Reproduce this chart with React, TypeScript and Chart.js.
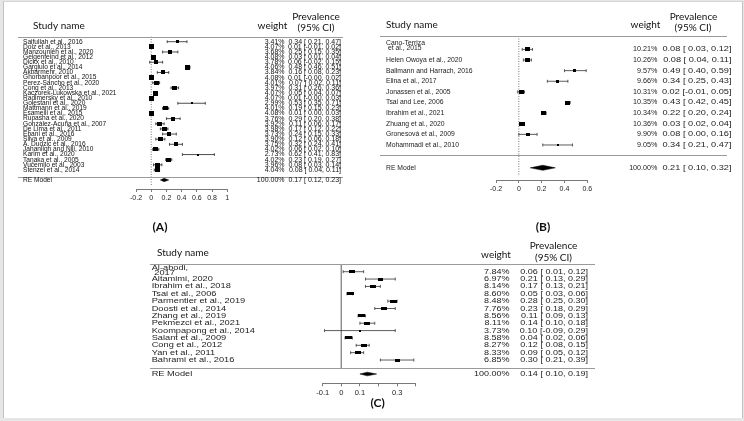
import { useEffect, useRef } from 'react';
import { Chart, registerables } from 'chart.js';
Chart.register(...registerables);

// ---------- Panel A data ----------
const namesA = [
  'Saifullah et al., 2016', 'Dolz et al., 2013', 'Manzounieh et al., 2020', 'Geigenfeind et al., 2012',
  'Dickx et al., 2010', 'Gargiulo et al., 2014', 'Akbarmehr, 2010', 'Ghorbanpoor et al., 2015',
  'Perez-Sancho et al., 2020', 'Cong et al., 2013', 'Kaczorek-Lukowska et al., 2021', 'Radimersky et al., 2010',
  'Golestani et al., 2020', 'Mattmann et al., 2019', 'Esameili et al., 2015', 'Rupasha et al., 2020',
  'González-Acuña et al., 2007', 'De Lima et al., 2011', 'Ebani et al., 2016', 'Silva et al., 2009',
  'A. Dudzic et al., 2016', 'Jahanligh and Nili, 2010', 'Karim et al., 2020', 'Tanaka et al., 2005',
  'Vučemilo et al., 2003', 'Stenzel et al., 2014',
];
const weightsA = [3.41, 4.07, 3.68, 4.08, 3.78, 4.06, 3.84, 4.08, 4.01, 3.97, 4.07, 4.07, 2.99, 4.01, 4.08, 3.76, 3.92, 3.98, 3.73, 3.90, 3.75, 4.02, 2.73, 4.02, 3.96, 4.04];
const estA = [0.34, 0.01, 0.25, 0.03, 0.06, 0.48, 0.16, 0.01, 0.07, 0.31, 0.05, 0.01, 0.53, 0.19, 0.01, 0.29, 0.11, 0.17, 0.24, 0.12, 0.32, 0.06, 0.62, 0.23, 0.08, 0.08];
const loA = [0.21, -0.01, 0.15, 0.01, -0.02, 0.46, 0.08, -0.003, 0.02, 0.26, 0.04, -0.003, 0.35, 0.15, 0.00, 0.20, 0.06, 0.12, 0.15, 0.06, 0.24, 0.02, 0.41, 0.19, 0.03, 0.04];
const hiA = [0.47, 0.02, 0.35, 0.04, 0.15, 0.51, 0.23, 0.02, 0.11, 0.36, 0.07, 0.03, 0.71, 0.23, 0.03, 0.38, 0.17, 0.22, 0.33, 0.18, 0.41, 0.10, 0.83, 0.27, 0.14, 0.11];
const reA = [0.17, 0.12, 0.23];
const ticksA = [-0.2, 0, 0.2, 0.4, 0.6, 0.8, 1];
const tickLabelsA = ['-0.2', '0', '0.2', '0.4', '0.6', '0.8', '1'];

// ---------- Panel B data ----------
const namesB = [
  'Cano-Terriza\n et al., 2015', 'Helen Owoya et al., 2020', 'Ballmann and Harrach, 2016', 'Elina et al., 2017',
  'Jonassen et al., 2005', 'Tsai and Lee, 2006', 'Ibrahim et al., 2021', 'Zhuang et al., 2020',
  'Gronesová et al., 2009', 'Mohammadi et al., 2010',
];
const weightsB = [10.21, 10.26, 9.57, 9.66, 10.31, 10.35, 10.34, 10.36, 9.90, 9.05];
const estB = [0.08, 0.08, 0.49, 0.34, 0.02, 0.43, 0.22, 0.03, 0.08, 0.34];
const loB = [0.03, 0.04, 0.40, 0.25, -0.01, 0.42, 0.20, 0.02, 0.00, 0.21];
const hiB = [0.12, 0.11, 0.59, 0.43, 0.05, 0.45, 0.24, 0.04, 0.16, 0.47];
const reB = [0.21, 0.10, 0.32];
const ticksB = [-0.2, 0, 0.2, 0.4, 0.6];
const tickLabelsB = ['-0.2', '0', '0.2', '0.4', '0.6'];

// ---------- Panel C data ----------
const namesC = [
  'Al-abodi,\n 2017', 'Altamimi, 2020', 'Ibrahim et al., 2018', 'Tsai et al., 2006', 'Parmentier et al., 2019',
  'Doosti et al., 2014', 'Zhang et al., 2019', 'Pekmezci et al., 2021', 'Koompapong et al., 2014',
  'Salant et al., 2009', 'Cong et al., 2012', 'Yan et al., 2011', 'Bahrami et al., 2016',
];
const weightsC = [7.84, 6.97, 8.14, 8.60, 8.48, 7.76, 8.56, 8.11, 3.73, 8.58, 8.27, 8.33, 6.85];
const estC = [0.06, 0.21, 0.17, 0.05, 0.28, 0.23, 0.11, 0.14, 0.10, 0.04, 0.12, 0.09, 0.30];
const loC = [0.01, 0.13, 0.13, 0.03, 0.25, 0.18, 0.09, 0.10, -0.09, 0.02, 0.08, 0.05, 0.21];
const hiC = [0.12, 0.29, 0.21, 0.06, 0.30, 0.29, 0.13, 0.18, 0.29, 0.06, 0.15, 0.12, 0.39];
const reC = [0.14, 0.10, 0.19];
const ticksC = [-0.1, 0, 0.1, 0.2, 0.3, 0.4];
const tickLabelsC = ['-0.1', '0', '0.1', '', '0.3', ''];

const SANS = '"Liberation Sans", Arial, sans-serif';
const HEAD = 'Lato, "Open Sans", sans-serif';

type Panel = {
  names: string[]; weights: number[]; est: number[]; lo: number[]; hi: number[]; re: number[];
  ticks: number[]; tickLabels: string[];
  box: { left: number; top: number; width: number; height: number };
  ax0: number; ax1: number; y0: number; dy: number; headerY: number; axisY: number;
  sepOff: number; reOff: number; zeroEnd: number; zeroDash: number[]; zeroColor: string;
  dh: number; cap: number; wR: [number, number]; hR: [number, number];
  nameX: number; nameSize: number; nameSx: number; mlOff: number; mlGap: number;
  numSize: number; numSx: number; ciSx: number; wRight: number; ciRight: number;
  textColor: string; lineColor: string; ciColor: string;
  lineX0: number; lineX1: number;
  hStudy: [number, number]; hWeight: [number, number]; hPrev: [number, number]; hCI: [number, number];
  headSize: number; tickSize: number;
  label: string; labelPos: [number, number];
};

const panels: Panel[] = [
  {
    names: namesA, weights: weightsA, est: estA, lo: loA, hi: hiA, re: reA, ticks: ticksA, tickLabels: tickLabelsA,
    box: { left: 0, top: 0, width: 370, height: 240 },
    ax0: 136, ax1: 227.3, y0: 41.7, dy: 5.13, headerY: 36.5, axisY: 189,
    sepOff: 0.3, reOff: 0.95, zeroEnd: 28.2, zeroDash: [1, 1.5], zeroColor: '#555',
    dh: 0.33, cap: 1.4, wR: [1.5, 5], hR: [1.5, 4.6],
    nameX: 23, nameSize: 6.6, nameSx: 1, mlOff: 0, mlGap: 5,
    numSize: 7, numSx: 1, ciSx: 1, wRight: 284.5, ciRight: 341,
    textColor: '#111', lineColor: '#9a9a9a', ciColor: '#222',
    lineX0: 18, lineX1: 343,
    hStudy: [33, 25.5], hWeight: [272.5, 25.5], hPrev: [316, 16.5], hCI: [316, 28],
    headSize: 10, tickSize: 7,
    label: '(A)', labelPos: [160, 227],
  },
  {
    names: namesB, weights: weightsB, est: estB, lo: loB, hi: hiB, re: reB, ticks: ticksB, tickLabels: tickLabelsB,
    box: { left: 370, top: 0, width: 374, height: 240 },
    ax0: 496, ax1: 587.3, y0: 49.4, dy: 10.62, headerY: 36, axisY: 180,
    sepOff: -0.07, reOff: 1.15, zeroEnd: 11.85, zeroDash: [1, 1.5], zeroColor: '#555',
    dh: 0.24, cap: 1.5, wR: [1.5, 5.5], hR: [1.5, 4.2],
    nameX: 386, nameSize: 6.8, nameSx: 1, mlOff: -6.6, mlGap: 5,
    numSize: 7.2, numSx: 1, ciSx: 1.28, wRight: 657.5, ciRight: 731.5,
    textColor: '#222', lineColor: '#9a9a9a', ciColor: '#333',
    lineX0: 380, lineX1: 727,
    hStudy: [386, 25], hWeight: [645.5, 25], hPrev: [693.5, 16.5], hCI: [693, 27.5],
    headSize: 10, tickSize: 7,
    label: '(B)', labelPos: [543, 226.7],
  },
  {
    names: namesC, weights: weightsC, est: estC, lo: loC, hi: hiC, re: reC, ticks: ticksC, tickLabels: tickLabelsC,
    box: { left: 140, top: 236, width: 470, height: 182 },
    ax0: 322.7, ax1: 415.7, y0: 271.7, dy: 7.36, headerY: 264.3, axisY: 383.3,
    sepOff: 0.1, reOff: 0.9, zeroEnd: 13.1, zeroDash: [], zeroColor: '#888',
    dh: 0.25, cap: 1.5, wR: [1.5, 6.7], hR: [1.5, 3.4],
    nameX: 151.7, nameSize: 7.4, nameSx: 1.25, mlOff: -4, mlGap: 5,
    numSize: 7.4, numSx: 1.22, ciSx: 1.22, wRight: 509.5, ciRight: 588,
    textColor: '#222', lineColor: '#9a9a9a', ciColor: '#333',
    lineX0: 150, lineX1: 595,
    hStudy: [157, 252.7], hWeight: [496, 255], hPrev: [553.5, 246], hCI: [553.5, 257.3],
    headSize: 10, tickSize: 7.5,
    label: '(C)', labelPos: [377.7, 402.7],
  },
];

function rectImg(w: number, h: number) {
  const c = document.createElement('canvas');
  c.width = Math.max(1, Math.round(w));
  c.height = Math.max(1, Math.round(h));
  const g = c.getContext('2d')!;
  g.fillStyle = '#000';
  g.fillRect(0, 0, c.width, c.height);
  return c;
}

function fmt(v: number) {
  const s = v.toFixed(2);
  return v < 0 ? s : ' ' + s;
}

function Forest({ p }: { p: Panel }) {
  const ref = useRef<HTMLCanvasElement>(null);
  useEffect(() => {
    const k = p.names.length;
    const yTop = (p.headerY - p.y0) / p.dy;
    const yBot = (p.axisY - p.y0) / p.dy;
    const reIdx = k + p.reOff;
    const sepIdx = k + p.sepOff;
    const AXH = 14;

    const ciData: { x: number; y: number }[] = [];
    const capData: { x: number; y: number }[] = [];
    p.lo.forEach((l, i) => {
      ciData.push({ x: l, y: i }, { x: p.hi[i], y: i }, { x: NaN, y: NaN });
      capData.push({ x: l, y: i }, { x: p.hi[i], y: i });
    });
    const ptData = p.est.map((e, i) => ({ x: e, y: i }));
    const wMin = Math.min(...p.weights);
    const wMax = Math.max(...p.weights);
    const imgs = p.weights.map((w) => {
      const t = (w - wMin) / (wMax - wMin);
      return rectImg(p.wR[0] + t * (p.wR[1] - p.wR[0]), p.hR[0] + t * (p.hR[1] - p.hR[0]));
    });
    const [reE, reL, reH] = p.re;
    const dia = [
      { x: reL, y: reIdx }, { x: reE, y: reIdx - p.dh }, { x: reH, y: reIdx },
      { x: reE, y: reIdx + p.dh }, { x: reL, y: reIdx },
    ];
    const zero = [{ x: 0, y: yTop }, { x: 0, y: p.zeroEnd }];

    const ox = p.box.left;
    const oy = p.box.top;

    const text = (ctx: CanvasRenderingContext2D, s: string, x: number, y: number, font: string, align: CanvasTextAlign, sx: number, color: string) => {
      ctx.save();
      ctx.font = font;
      ctx.fillStyle = color;
      ctx.textBaseline = 'middle';
      ctx.textAlign = align;
      ctx.translate(x - ox, y - oy);
      ctx.scale(sx, 1);
      ctx.fillText(s, 0, 0);
      ctx.restore();
    };

    const textPlugin = {
      id: 'forestText',
      afterDraw(chart: Chart) {
        const ctx = chart.ctx;
        const ys = chart.scales.y;
        const py = (v: number) => ys.getPixelForValue(v) + oy;
        ctx.save();
        ctx.strokeStyle = p.lineColor;
        ctx.lineWidth = 1;
        [yTop, sepIdx].forEach((v) => {
          const yy = Math.round(py(v) - oy) + 0.5;
          ctx.beginPath();
          ctx.moveTo(p.lineX0 - ox, yy);
          ctx.lineTo(p.lineX1 - ox, yy);
          ctx.stroke();
        });
        ctx.restore();
        const hf = `${p.headSize}px ${HEAD}`;
        text(ctx, 'Study name', p.hStudy[0], p.hStudy[1], hf, 'left', 1, '#111');
        text(ctx, 'weight', p.hWeight[0], p.hWeight[1], hf, 'center', 1, '#111');
        text(ctx, 'Prevalence', p.hPrev[0], p.hPrev[1], hf, 'center', 1, '#111');
        text(ctx, '(95% CI)', p.hCI[0], p.hCI[1], hf, 'center', 1, '#111');
        const nf = `${p.nameSize}px ${SANS}`;
        const mf = `${p.numSize}px ${SANS}`;
        p.names.forEach((n, i) => {
          const yy = py(i);
          const parts = n.split('\n');
          if (parts.length > 1) {
            parts.forEach((pt, j) => text(ctx, pt, p.nameX, yy + p.mlOff + j * p.mlGap, nf, 'left', p.nameSx, p.textColor));
          } else {
            text(ctx, n, p.nameX, yy, nf, 'left', p.nameSx, p.textColor);
          }
          text(ctx, p.weights[i].toFixed(2) + '%', p.wRight, yy, mf, 'right', p.numSx, p.textColor);
          text(ctx, `${p.est[i].toFixed(2)} [${fmt(p.lo[i])},${fmt(p.hi[i])}]`, p.ciRight, yy, mf, 'right', p.ciSx, p.textColor);
        });
        const ry = py(reIdx);
        text(ctx, 'RE Model', p.nameX, ry, nf, 'left', p.nameSx, p.textColor);
        text(ctx, '100.00%', p.wRight, ry, mf, 'right', p.numSx, p.textColor);
        text(ctx, `${reE.toFixed(2)} [${fmt(reL)},${fmt(reH)}]`, p.ciRight, ry, mf, 'right', p.ciSx, p.textColor);
        text(ctx, p.label, p.labelPos[0], p.labelPos[1], `bold 12px ${HEAD}`, 'center', 1, '#111');
      },
    };

    const chart = new Chart(ref.current!, {
      type: 'scatter',
      data: {
        datasets: [
          { data: ptData, pointStyle: imgs as any, pointRadius: 3, borderWidth: 0 },
          { data: capData, pointStyle: 'line', rotation: 90, pointRadius: p.cap, borderColor: p.ciColor, borderWidth: 0.8 },
          { data: ciData, showLine: true, spanGaps: false, borderColor: p.ciColor, borderWidth: 0.8, pointRadius: 0 },
          { data: dia, showLine: true, fill: 'shape', backgroundColor: '#000', borderColor: '#000', borderWidth: 0.5, pointRadius: 0 },
          { data: zero, showLine: true, borderColor: p.zeroColor, borderWidth: 0.8, borderDash: p.zeroDash, pointRadius: 0 },
        ] as any,
      },
      options: {
        responsive: true,
        maintainAspectRatio: false,
        animation: false,
        events: [],
        layout: {
          padding: {
            left: p.ax0 - ox,
            right: ox + p.box.width - p.ax1,
            top: p.headerY - oy,
            bottom: oy + p.box.height - p.axisY - AXH,
          },
        },
        plugins: { legend: { display: false }, tooltip: { enabled: false }, title: { display: false } },
        scales: {
          x: {
            type: 'linear',
            min: p.ticks[0],
            max: p.ticks[p.ticks.length - 1],
            afterBuildTicks: (s: any) => { s.ticks = p.ticks.map((v) => ({ value: v })); },
            afterFit: (s: any) => { s.height = AXH; },
            grid: { display: true, drawOnChartArea: false, drawTicks: true, tickLength: 3, color: '#555', lineWidth: 0.8 },
            border: { display: true, color: '#555', width: 0.8 },
            ticks: {
              autoSkip: false, maxRotation: 0, padding: 2, color: '#222',
              font: { family: SANS, size: p.tickSize },
              callback: (_v: any, i: number) => p.tickLabels[i],
            },
          },
          y: { type: 'linear', display: false, min: yTop, max: yBot, reverse: true },
        },
      } as any,
      plugins: [textPlugin],
    });
    return () => chart.destroy();
  }, [p]);

  return (
    <div style={{ position: 'absolute', left: p.box.left, top: p.box.top, width: p.box.width, height: p.box.height }}>
      <canvas ref={ref} />
    </div>
  );
}

export default function App() {
  return (
    <div style={{ position: 'absolute', left: 0, top: 0, width: 744, height: 421, background: '#e6e6e6', overflow: 'hidden' }}>
      <div style={{ position: 'absolute', left: 3, top: 1, width: 738, height: 416, background: '#fff', borderLeft: '1px solid #c2c2c2', borderRight: '1px solid #c2c2c2', borderTop: '1px solid #d6d6d6' }} />
      {panels.map((p, i) => <Forest key={i} p={p} />)}
    </div>
  );
}
